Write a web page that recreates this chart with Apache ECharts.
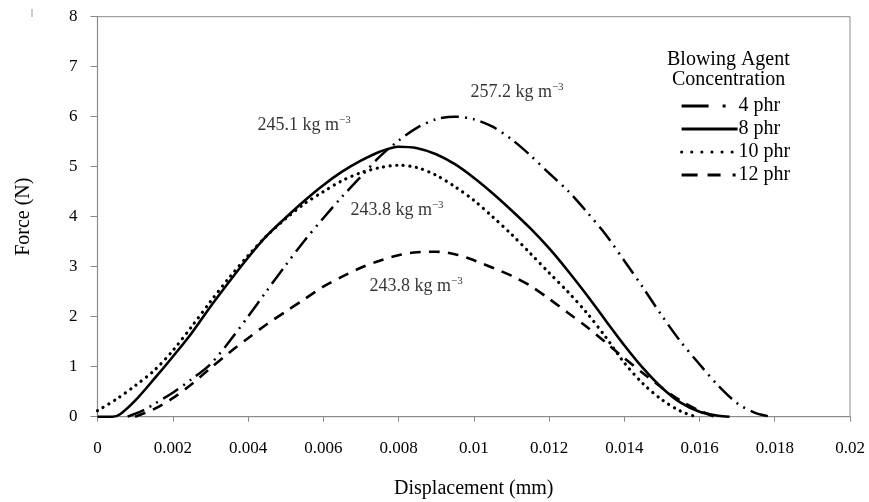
<!DOCTYPE html>
<html>
<head>
<meta charset="utf-8">
<script src="https://cdn.jsdelivr.net/npm/echarts@6/dist/echarts.min.js"></script>
<style>
html,body{margin:0;padding:0;background:#fff;}
#chart{width:869px;height:502px;}
</style>
</head>
<body>
<div id="chart"></div>
<script>
// ---- data ----
var seriesNames = ['4 phr', '8 phr', '10 phr', '12 phr'];

var disp4 = [0.0008,0.0012,0.0015,0.002,0.0025,0.003,0.0035,0.004,0.0045,0.005,0.0055,0.006,0.0065,0.007,0.0075,0.008,0.0085,0.009,0.0095,0.01,0.0105,0.011,0.0115,0.012,0.0125,0.013,0.0135,0.014,0.0145,0.015,0.0155,0.016,0.0165,0.017,0.0175,0.0179];
var force4 = [0,0.12,0.25,0.48,0.75,1.05,1.5,2.0,2.52,3.03,3.52,3.97,4.4,4.8,5.2,5.52,5.78,5.95,6.0,5.95,5.8,5.55,5.23,4.87,4.52,4.1,3.65,3.12,2.58,2.02,1.5,1.05,0.62,0.27,0.07,0];

var disp8 = [0,0.0004,0.0006,0.001,0.0015,0.002,0.0025,0.003,0.0035,0.004,0.0045,0.005,0.0055,0.006,0.0065,0.007,0.0075,0.008,0.0085,0.009,0.0095,0.01,0.0105,0.011,0.0115,0.012,0.0125,0.013,0.0135,0.014,0.0145,0.015,0.0155,0.016,0.0165,0.0168];
var force8 = [0,0,0.05,0.32,0.75,1.2,1.67,2.2,2.7,3.18,3.62,3.98,4.32,4.63,4.9,5.12,5.3,5.4,5.37,5.25,5.05,4.78,4.47,4.13,3.77,3.37,2.92,2.44,1.93,1.43,0.97,0.58,0.28,0.1,0.02,0];

var disp10 = [0,0.0005,0.001,0.0015,0.002,0.0025,0.003,0.0035,0.004,0.0045,0.005,0.0055,0.006,0.0065,0.007,0.0075,0.008,0.0085,0.009,0.0095,0.01,0.0105,0.011,0.0115,0.012,0.0125,0.013,0.0135,0.014,0.0145,0.015,0.0155,0.0159];
var force10 = [0.12,0.35,0.62,0.92,1.32,1.8,2.3,2.78,3.22,3.62,3.96,4.26,4.5,4.72,4.88,4.98,5.03,4.98,4.83,4.6,4.33,4.0,3.65,3.27,2.88,2.5,2.08,1.6,1.08,0.66,0.34,0.11,0];

var disp12 = [0.001,0.0015,0.002,0.0025,0.003,0.0035,0.004,0.0045,0.005,0.0055,0.006,0.0065,0.007,0.0075,0.008,0.0085,0.009,0.0095,0.01,0.0105,0.011,0.0115,0.012,0.0125,0.013,0.0135,0.014,0.0145,0.015,0.0155,0.016,0.0164];
var force12 = [0,0.15,0.37,0.65,0.97,1.28,1.57,1.85,2.1,2.35,2.6,2.8,2.98,3.12,3.23,3.29,3.3,3.25,3.13,2.98,2.82,2.62,2.36,2.08,1.8,1.49,1.17,0.87,0.58,0.32,0.12,0];

// density annotations: text, position in data units
var annoText = ['245.1 kg m', '257.2 kg m', '243.8 kg m', '243.8 kg m'];
var annoX = [0.00549, 0.01115, 0.00796, 0.00847];
var annoY = [5.85, 6.51, 4.15, 2.63];

var xTicks = {min: 0, max: 0.02, interval: 0.002};
var yTicks = {min: 0, max: 8, interval: 1};

// ---- chart ----
var FONT = "'Liberation Serif','Times New Roman',serif";
function zip(a, b) { return a.map(function (v, i) { return [v, b[i]]; }); }

var styles = [
  {type: [18, 6, 2, 6, 2, 6], width: 2.5, cap: 'butt'},
  {type: 'solid', width: 2.6, cap: 'butt'},
  {type: [0.1, 6.5], width: 3.2, cap: 'round'},
  {type: [11, 8], width: 2.6, cap: 'butt'}
];
var legendStyles = [
  {type: [27, 14, 3, 20], width: 3, cap: 'butt', color: '#000'},
  {type: 'solid', width: 3.2, cap: 'butt', color: '#000'},
  {type: [0.1, 10], width: 3, cap: 'round', color: '#000'},
  {type: [16, 10, 13, 12, 3, 20], width: 3, cap: 'butt', color: '#000'}
];
var datas = [zip(disp4, force4), zip(disp8, force8), zip(disp10, force10), zip(disp12, force12)];

var series = seriesNames.map(function (n, i) {
  return {
    name: n, type: 'line', data: datas[i], smooth: 0.3,
    symbol: 'none', showSymbol: false,
    lineStyle: Object.assign({color: '#000'}, styles[i]),
    itemStyle: {color: '#000'},
    z: 3
  };
});

series.push({
  name: 'anno', type: 'scatter', symbolSize: 0, silent: true,
  data: annoText.map(function (t, i) { return {value: [annoX[i], annoY[i]], name: t}; }),
  label: {
    show: true, position: 'inside',
    formatter: function (p) { return '{a|' + p.name + '}{s|\u22123}'; },
    rich: {
      a: {fontFamily: FONT, fontSize: 18, color: '#000', lineHeight: 20, verticalAlign: 'bottom'},
      s: {fontFamily: FONT, fontSize: 11, color: '#000', lineHeight: 20, verticalAlign: 'top', padding: [0, 0, 6, 0]}
    }
  },
  z: 5
});

var chart = echarts.init(document.getElementById('chart'), null, {renderer: 'canvas'});
chart.setOption({
  animation: false,
  backgroundColor: '#fff',
  textStyle: {fontFamily: FONT},
  grid: {left: 97.5, right: 19, top: 16.7, bottom: 85.3, show: true, borderColor: '#8a8a8a', borderWidth: 1,
         outerBoundsMode: 'none', containLabel: false},
  xAxis: {
    type: 'value', min: xTicks.min, max: xTicks.max, interval: xTicks.interval,
    name: 'Displacement (mm)', nameLocation: 'middle', nameGap: 62,
    nameTextStyle: {fontFamily: FONT, fontSize: 20, color: '#000'},
    axisLine: {lineStyle: {color: '#8a8a8a', width: 1.2}},
    axisTick: {show: true, length: 5, lineStyle: {color: '#8a8a8a'}},
    axisLabel: {fontFamily: FONT, fontSize: 17, color: '#000', margin: 23},
    splitLine: {show: false}
  },
  yAxis: {
    type: 'value', min: yTicks.min, max: yTicks.max, interval: yTicks.interval,
    name: 'Force (N)', nameLocation: 'middle', nameGap: 64, nameRotate: 90,
    nameTextStyle: {fontFamily: FONT, fontSize: 20, color: '#000'},
    axisLine: {show: true, lineStyle: {color: '#8a8a8a', width: 1.2}},
    axisTick: {show: true, length: 7, lineStyle: {color: '#8a8a8a'}},
    axisLabel: {fontFamily: FONT, fontSize: 17, color: '#000', margin: 20},
    splitLine: {show: false}
  },
  legend: {
    data: seriesNames.map(function (n, i) {
      return {name: n, lineStyle: legendStyles[i], itemStyle: {opacity: 0, borderWidth: 0}};
    }),
    orient: 'vertical', left: 675, top: 90,
    itemWidth: 56, itemHeight: 12, itemGap: 1,
    itemStyle: {opacity: 0, borderWidth: 0},
    textStyle: {fontFamily: FONT, fontSize: 20, color: '#000', lineHeight: 22, padding: [0, 0, 0, -4]}
  },
  graphic: [
    {type: 'text', left: 667, top: 50, style: {text: 'Blowing Agent', font: '20px ' + FONT, fill: '#000'}},
    {type: 'text', left: 672, top: 70, style: {text: 'Concentration', font: '20px ' + FONT, fill: '#000'}},
    {type: 'line', shape: {x1: 32, y1: 9, x2: 32, y2: 17}, style: {stroke: '#999', lineWidth: 1}}
  ],
  series: series
});
</script>
</body>
</html>
